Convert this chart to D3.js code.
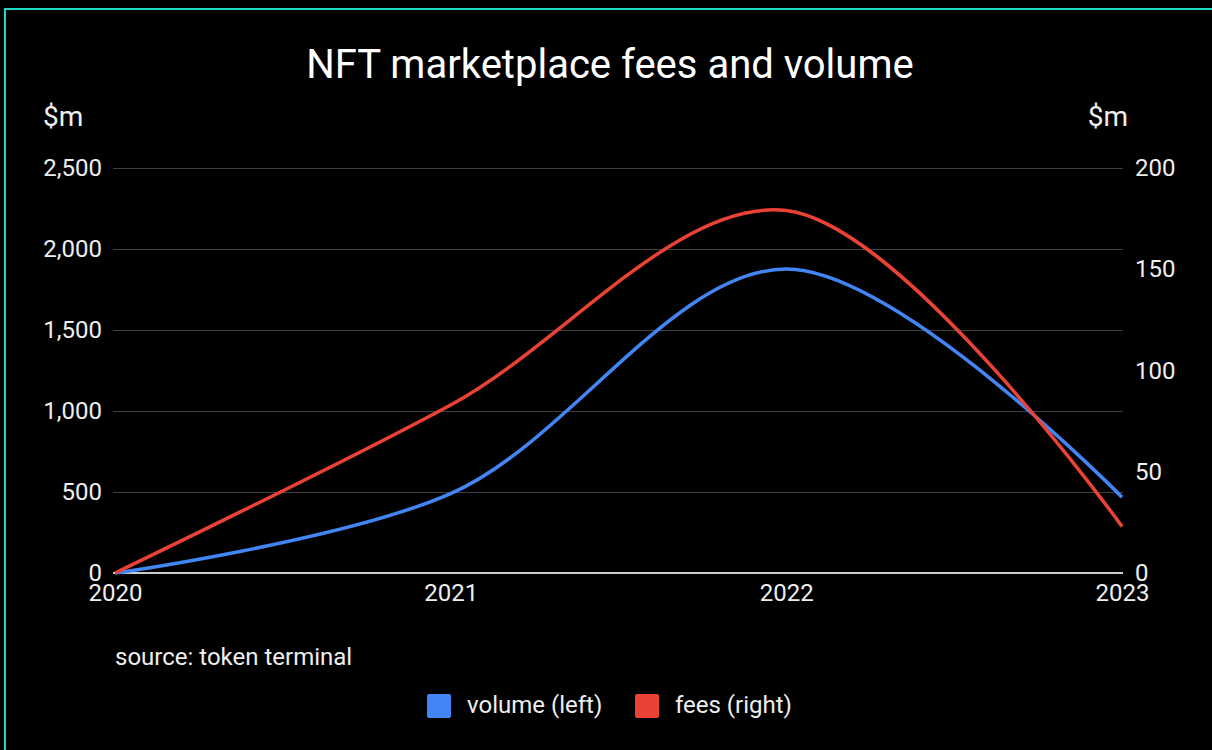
<!DOCTYPE html>
<html>
<head>
<meta charset="utf-8">
<script src="https://cdn.jsdelivr.net/npm/d3@7"></script>
<style>
  html, body { margin: 0; padding: 0; background: #000; }
  svg { display: block; font-family: Roboto, "Noto Sans", sans-serif; }
</style>
</head>
<body>
<svg id="chart" width="1212" height="750"></svg>
<script>
// NFT marketplace volume ($m, left axis) and fees ($m, right axis) by year
const years = [2020, 2021, 2022, 2023];
const volume = [0, 490, 1876, 468];
const fees = [0, 83, 179, 23];
const leftTicks = [0, 500, 1000, 1500, 2000, 2500];
const rightTicks = [0, 50, 100, 150, 200];
const seriesNames = ["volume (left)", "fees (right)"];
const seriesColors = ["#4285f4", "#ea4335"];

const svg = d3.select("#chart");
const W = 1212, H = 750;
const plot = { left: 115, right: 1122, top: 168, bottom: 573 };
const textColor = "#eeeeee";

svg.append("rect").attr("width", W).attr("height", H).attr("fill", "#000");

// frame
svg.append("path")
  .attr("d", `M5,${H} L5,9 L${W},9`)
  .attr("fill", "none")
  .attr("stroke", "#1ed8c4")
  .attr("stroke-width", 2);

const x = d3.scaleLinear().domain([years[0], years[years.length - 1]]).range([plot.left, plot.right]);
const yL = d3.scaleLinear().domain([0, 2500]).range([plot.bottom, plot.top]);
const yR = d3.scaleLinear().domain([0, 200]).range([plot.bottom, plot.top]);

// gridlines
svg.append("g")
  .selectAll("line")
  .data(leftTicks.filter(d => d > 0))
  .join("line")
  .attr("x1", plot.left - 2).attr("x2", plot.right + 1)
  .attr("y1", d => Math.round(yL(d)) + 0.5).attr("y2", d => Math.round(yL(d)) + 0.5)
  .attr("stroke", "#404040").attr("stroke-width", 1.2);

// left axis
const leftAxis = d3.axisLeft(yL).tickValues(leftTicks).tickSize(0).tickPadding(0)
  .tickFormat(d3.format(","));
const gL = svg.append("g").attr("transform", `translate(${plot.left - 13},0)`).call(leftAxis);
gL.select(".domain").remove();
gL.selectAll("text").attr("fill", textColor).attr("font-size", 24).attr("font-family", "Roboto");

// right axis
const rightAxis = d3.axisRight(yR).tickValues(rightTicks).tickSize(0).tickPadding(0);
const gR = svg.append("g").attr("transform", `translate(${plot.right + 13},0)`).call(rightAxis);
gR.select(".domain").remove();
gR.selectAll("text").attr("fill", textColor).attr("font-size", 24).attr("font-family", "Roboto");

// bottom axis
const bottomAxis = d3.axisBottom(x).tickValues(years).tickSize(0).tickPadding(0).tickFormat(d3.format("d"));
const gB = svg.append("g").attr("transform", `translate(0,${plot.bottom + 11})`).call(bottomAxis);
gB.select(".domain").remove();
gB.selectAll("text").attr("fill", textColor).attr("font-size", 24).attr("font-family", "Roboto")
  .attr("dy", "0.71em");

// baseline
svg.append("line")
  .attr("x1", plot.left - 2).attr("x2", plot.right + 1)
  .attr("y1", plot.bottom).attr("y2", plot.bottom)
  .attr("stroke", "#cccccc").attr("stroke-width", 2);

// series lines
const curve = d3.curveCatmullRom.alpha(0.5);
const volLine = d3.line().x((d, i) => x(years[i])).y(d => yL(d)).curve(curve);
const feeLine = d3.line().x((d, i) => x(years[i])).y(d => yR(d)).curve(curve);

svg.append("path").datum(volume).attr("d", volLine)
  .attr("fill", "none").attr("stroke", seriesColors[0]).attr("stroke-width", 3.5)
  .attr("stroke-linejoin", "round");
svg.append("path").datum(fees).attr("d", feeLine)
  .attr("fill", "none").attr("stroke", seriesColors[1]).attr("stroke-width", 3.5)
  .attr("stroke-linejoin", "round");

// title
svg.append("text")
  .attr("x", 610).attr("y", 78)
  .attr("text-anchor", "middle")
  .attr("fill", "#ffffff").attr("font-size", 40)
  .text("NFT marketplace fees and volume");

// axis titles
svg.append("text").attr("x", 43).attr("y", 126)
  .attr("fill", textColor).attr("font-size", 28).text("$m");
svg.append("text").attr("x", 1128).attr("y", 126).attr("text-anchor", "end")
  .attr("fill", textColor).attr("font-size", 28).text("$m");

// source note
svg.append("text").attr("x", 115).attr("y", 665)
  .attr("fill", textColor).attr("font-size", 24).text("source: token terminal");

// legend
const legendX = [427, 635];
const lg = svg.append("g").selectAll("g").data(seriesNames).join("g")
  .attr("transform", (d, i) => `translate(${legendX[i]},694)`);
lg.append("rect").attr("width", 24).attr("height", 24).attr("rx", 2)
  .attr("fill", (d, i) => seriesColors[i]);
lg.append("text").attr("x", 40).attr("y", 19)
  .attr("fill", textColor).attr("font-size", 24).text(d => d);
</script>
</body>
</html>
